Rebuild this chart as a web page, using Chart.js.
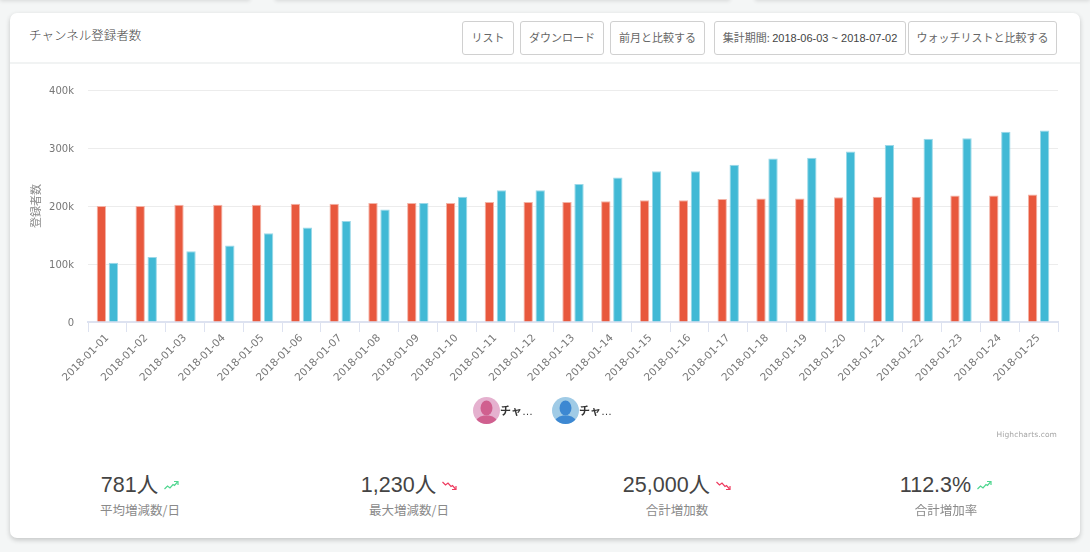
<!DOCTYPE html>
<html lang="ja">
<head>
<meta charset="utf-8">
<title>チャンネル登録者数</title>
<script src="https://cdn.jsdelivr.net/npm/chart.js@4"></script>
<style>
    html, body { margin: 0; padding: 0; width: 1090px; height: 552px; overflow: hidden; background: #f4f6f6; }
    body { position: relative; font-family: "Noto Sans CJK JP", "Liberation Sans", sans-serif; color: #444; }
    .ghost { position: absolute; top: -20px; height: 20px; background: #fff; box-shadow: 0 1px 4px rgba(0, 0, 0, 0.12); }
    .card { position: absolute; left: 10px; top: 13px; width: 1070px; height: 525px; background: #fff; border-radius: 7px; box-shadow: 0 2px 5px rgba(0, 0, 0, 0.2); }
    .head-line { position: absolute; left: 10px; top: 62px; width: 1070px; height: 2px; background: #f1f3f3; }
    .title { position: absolute; left: 29px; top: 25px; font-size: 12.5px; line-height: 20px; color: #444; font-weight: 300; }
    .btn { position: absolute; top: 21px; height: 32px; line-height: 31px; border: 1px solid #d0d0d0; border-radius: 3px; background: #fff; font-size: 11px; color: #666; text-align: center; white-space: nowrap; }
    .btn .date { font-family: "Liberation Sans", sans-serif; color: #444; }
    #chartWrap { position: absolute; left: 10px; top: 64px; width: 1070px; height: 380px; }
    .legend-item { position: absolute; top: 397px; height: 27px; line-height: 27px; font-size: 11px; font-weight: 700; color: #333; white-space: nowrap; }
    .legend-item svg { position: absolute; left: 0; top: 0; }
    .legend-item span { position: absolute; left: 27px; top: 0; }
    .legend-item i { font-style: normal; font-weight: 400; font-family: "Liberation Sans", sans-serif; }
    .credit { position: absolute; right: 33px; top: 429px; font-family: "DejaVu Sans", sans-serif; font-size: 7.5px; line-height: 12px; color: #a5a5a5; letter-spacing: 0.1px; }
    .stat { position: absolute; top: 470px; width: 240px; margin-left: -120px; text-align: center; }
    .stat .num { font-family: "Liberation Sans", "Noto Sans CJK JP", sans-serif; font-size: 21.5px; line-height: 30px; color: #444; }
    .stat .num svg { margin-left: 6px; vertical-align: 1px; }
    .stat .lbl { font-size: 12.5px; line-height: 20px; color: #8a8a8a; }
</style>
</head>
<body>
<div class="ghost" style="left:0;width:250px"></div>
<div class="ghost" style="left:275px;width:455px"></div>
<div class="ghost" style="left:755px;width:335px"></div>

<div class="card"></div>
<div class="head-line"></div>
<div class="title">チャンネル登録者数</div>
<div class="btn" style="left:462px;width:50px">リスト</div>
<div class="btn" style="left:520px;width:82px">ダウンロード</div>
<div class="btn" style="left:610px;width:93px">前月と比較する</div>
<div class="btn" style="left:714px;width:190px">集計期間: <span class="date">2018-06-03 ~ 2018-07-02</span></div>
<div class="btn" style="left:908px;width:147px">ウォッチリストと比較する</div>

<div id="chartWrap"><canvas id="subscriberChart" width="1070" height="380"></canvas></div>

<div class="legend-item" style="left:473px;width:70px">
    <svg width="27" height="27" viewBox="0 0 27 27">
        <defs><clipPath id="c1"><circle cx="13.5" cy="13.5" r="13.5"/></clipPath></defs>
        <circle cx="13.5" cy="13.5" r="13.5" fill="#e5b1cf"/>
        <g clip-path="url(#c1)" fill="#d0608f">
            <ellipse cx="13.5" cy="11" rx="6" ry="7.5"/>
            <path d="M1 27 Q3 20 11 18.5 L16 18.5 Q24 20 26 27 Z"/>
        </g>
    </svg>
    <span>チャ<i>…</i></span>
</div>
<div class="legend-item" style="left:552px;width:70px">
    <svg width="27" height="27" viewBox="0 0 27 27">
        <defs><clipPath id="c2"><circle cx="13.5" cy="13.5" r="13.5"/></clipPath></defs>
        <circle cx="13.5" cy="13.5" r="13.5" fill="#a0cbe6"/>
        <g clip-path="url(#c2)" fill="#3d88d2">
            <ellipse cx="13.5" cy="11" rx="6" ry="7.5"/>
            <path d="M1 27 Q3 20 11 18.5 L16 18.5 Q24 20 26 27 Z"/>
        </g>
    </svg>
    <span>チャ<i>…</i></span>
</div>
<div class="credit">Highcharts.com</div>

<div id="stats"></div>

<script>
// chart data
const dates = ['2018-01-01', '2018-01-02', '2018-01-03', '2018-01-04', '2018-01-05', '2018-01-06', '2018-01-07',
    '2018-01-08', '2018-01-09', '2018-01-10', '2018-01-11', '2018-01-12', '2018-01-13', '2018-01-14', '2018-01-15',
    '2018-01-16', '2018-01-17', '2018-01-18', '2018-01-19', '2018-01-20', '2018-01-21', '2018-01-22', '2018-01-23',
    '2018-01-24', '2018-01-25'];
const channelA = [200000, 200000, 202000, 202000, 202000, 204000, 204000, 205000, 205000, 205000, 207000, 207000,
    207000, 208000, 210000, 210000, 212000, 213000, 213000, 215000, 216000, 216000, 218000, 218000, 220000];
const channelB = [102000, 112000, 122000, 132000, 153000, 163000, 174000, 194000, 205000, 216000, 227000, 227000,
    238000, 249000, 260000, 260000, 271000, 282000, 283000, 294000, 305000, 316000, 317000, 328000, 330000];
const yTicks = [0, 100000, 200000, 300000, 400000];

const statValues = ['781人', '1,230人', '25,000人', '112.3%'];
const statLabels = ['平均増減数/日', '最大増減数/日', '合計増加数', '合計増加率'];
const statTrends = ['up', 'down', 'down', 'up'];
const statCenters = [140, 409, 677, 946];

// small trend icons next to the numbers
const trendIcon = {
    up: '<svg width="15" height="11" viewBox="0 0 15 11" fill="none" stroke="#4fd68f" stroke-width="1.2"><path d="M0.5 9 L3.5 6 L6 8 L9 4.5 L10.5 5.5 L13.5 2"/><path d="M10 1.5 L14 1.5 L14 5"/></svg>',
    down: '<svg width="15" height="11" viewBox="0 0 15 11" fill="none" stroke="#ee3a5e" stroke-width="1.2"><path d="M0.5 2 L3.5 5 L6 3 L9 6.5 L10.5 5.5 L13.5 9"/><path d="M10 9.5 L14 9.5 L14 6"/></svg>'
};

document.getElementById('stats').innerHTML = statValues.map((v, i) =>
    '<div class="stat" style="left:' + statCenters[i] + 'px">' +
    '<div class="num">' + v + trendIcon[statTrends[i]] + '</div>' +
    '<div class="lbl">' + statLabels[i] + '</div></div>').join('');

const ctx = document.getElementById('subscriberChart');
new Chart(ctx, {
    type: 'bar',
    data: {
        labels: dates,
        datasets: [
            {
                label: 'チャンネルA',
                data: channelA,
                backgroundColor: '#e8583d',
                borderColor: '#f3b3a6',
                borderWidth: 1,
                categoryPercentage: 0.62,
                barPercentage: 0.78
            },
            {
                label: 'チャンネルB',
                data: channelB,
                backgroundColor: '#41b9d5',
                borderColor: '#9bd8e8',
                borderWidth: 1,
                categoryPercentage: 0.62,
                barPercentage: 0.78
            }
        ]
    },
    options: {
        responsive: false,
        animation: false,
        layout: { padding: { left: 0, right: 22, top: 26, bottom: 0 } },
        plugins: {
            legend: { display: false },
            tooltip: { enabled: false }
        },
        scales: {
            x: {
                afterFit: function(scale) { scale.height = 122; },
                border: { color: '#dde2f0', width: 2 },
                grid: { drawOnChartArea: false, color: '#dde2f0', tickLength: 10 },
                ticks: {
                    color: '#777',
                    font: { family: '"DejaVu Sans", sans-serif', size: 10.5 },
                    autoSkip: false,
                    minRotation: 45,
                    maxRotation: 45,
                    padding: 0
                }
            },
            y: {
                min: 0,
                max: 400000,
                afterFit: function(scale) { scale.width = 78; },
                afterBuildTicks: function(scale) { scale.ticks = yTicks.map(v => ({ value: v })); },
                border: { display: false },
                grid: { color: '#ececec', drawTicks: false },
                title: {
                    display: true,
                    text: '登録者数',
                    color: '#888',
                    font: { family: '"Noto Sans CJK JP", sans-serif', size: 11 },
                    padding: { top: 19, bottom: 0 }
                },
                ticks: {
                    color: '#777',
                    font: { family: '"DejaVu Sans", sans-serif', size: 10, lineHeight: '3px' },
                    padding: 14,
                    // empty first line pushes the label down a little, like the original
                    callback: function(value) {
                        return ['', value === 0 ? '0' : (value / 1000) + 'k'];
                    }
                }
            }
        }
    }
});
</script>
</body>
</html>
